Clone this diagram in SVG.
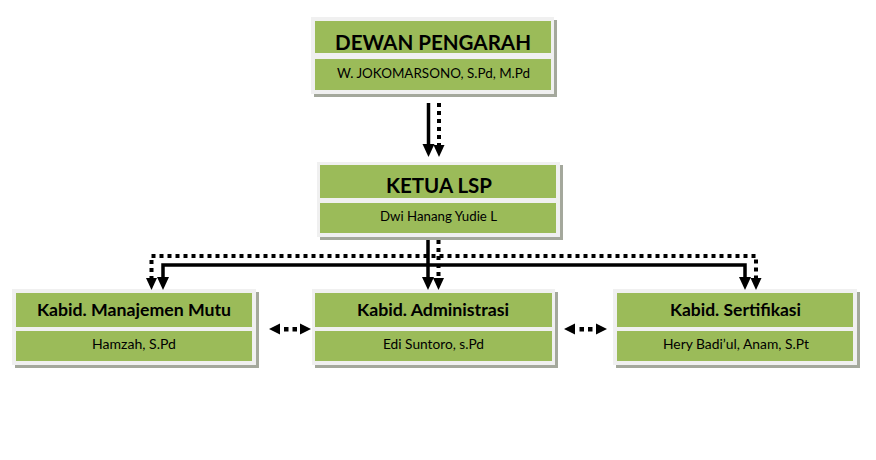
<svg xmlns="http://www.w3.org/2000/svg" width="876" height="460" viewBox="0 0 876 460">
  <defs>
    <style>
      .shadow { fill: #a4a89c; }
      .frame { fill: #f0f0f0; }
      .band { fill: #9bbb59; }
      .t { font-family: Lato, "Open Sans", sans-serif; fill: #000; text-anchor: middle; }
      .big { font-size: 21px; font-weight: bold; }
      .mid { font-size: 17px; font-weight: bold; }
      .small { font-size: 13.5px; }
      .solid { stroke: #000; stroke-width: 3.5; fill: none; }
      .dot { stroke: #000; stroke-width: 4; fill: none; stroke-dasharray: 4 4; }
      .head { fill: #000; }
    </style>
  </defs>
  <rect width="876" height="460" fill="#ffffff"/>

  <g id="dewan-pengarah">
    <rect class="shadow" x="314" y="20" width="243" height="77"/>
    <rect class="frame" x="311" y="17" width="243" height="77"/>
    <rect class="band" x="315" y="21" width="236" height="32"/>
    <rect class="band" x="315" y="59" width="236" height="31"/>
    <text class="t big" x="433" y="50" textLength="196" lengthAdjust="spacingAndGlyphs">DEWAN PENGARAH</text>
    <text class="t small" x="433.5" y="77.5" textLength="193" lengthAdjust="spacingAndGlyphs">W. JOKOMARSONO, S.Pd, M.Pd</text>
  </g>

  <g id="ketua-lsp">
    <rect class="shadow" x="320" y="165" width="243" height="75"/>
    <rect class="frame" x="317" y="162" width="243" height="75"/>
    <rect class="band" x="320" y="165" width="236" height="33"/>
    <rect class="band" x="320" y="203" width="236" height="30"/>
    <text class="t big" x="439" y="193" textLength="106" lengthAdjust="spacingAndGlyphs">KETUA LSP</text>
    <text class="t small" x="438.5" y="220.5" textLength="117" lengthAdjust="spacingAndGlyphs">Dwi Hanang Yudie L</text>
  </g>

  <g id="kabid-manajemen-mutu">
    <rect class="shadow" x="15" y="292" width="244" height="76"/>
    <rect class="frame" x="12" y="289" width="244" height="76"/>
    <rect class="band" x="16" y="293" width="236" height="34"/>
    <rect class="band" x="16" y="331" width="236" height="30"/>
    <text class="t mid" x="134" y="316" textLength="194" lengthAdjust="spacingAndGlyphs">Kabid. Manajemen Mutu</text>
    <text class="t small" x="134" y="348.5" textLength="84" lengthAdjust="spacingAndGlyphs">Hamzah, S.Pd</text>
  </g>

  <g id="kabid-administrasi">
    <rect class="shadow" x="315" y="292" width="243" height="76"/>
    <rect class="frame" x="312" y="289" width="243" height="76"/>
    <rect class="band" x="315" y="293" width="237" height="34"/>
    <rect class="band" x="315" y="331" width="237" height="30"/>
    <text class="t mid" x="433" y="316" textLength="152" lengthAdjust="spacingAndGlyphs">Kabid. Administrasi</text>
    <text class="t small" x="433.5" y="348.5" textLength="101" lengthAdjust="spacingAndGlyphs">Edi Suntoro, s.Pd</text>
  </g>

  <g id="kabid-sertifikasi">
    <rect class="shadow" x="616" y="292" width="244" height="76"/>
    <rect class="frame" x="613" y="289" width="244" height="76"/>
    <rect class="band" x="617" y="293" width="236" height="34"/>
    <rect class="band" x="617" y="331" width="236" height="30"/>
    <text class="t mid" x="735.5" y="316" textLength="131" lengthAdjust="spacingAndGlyphs">Kabid. Sertifikasi</text>
    <text class="t small" x="736" y="348.5" textLength="146" lengthAdjust="spacingAndGlyphs">Hery Badi’ul, Anam, S.Pt</text>
  </g>

  <g id="connectors">
    <!-- Dewan to Ketua -->
    <line class="solid" x1="428.5" y1="103" x2="428.5" y2="146"/>
    <polygon class="head" points="422.5,144 434.5,144 428.5,157"/>
    <line class="dot" x1="439" y1="103" x2="439" y2="146"/>
    <polygon class="head" points="433.5,145 444.5,145 439,157"/>

    <!-- Ketua solid tree -->
    <polyline class="solid" points="163,280 163,265 745,265 745,280"/>
    <line class="solid" x1="428" y1="240" x2="428" y2="280"/>
    <polygon class="head" points="157,277 169,277 163,290"/>
    <polygon class="head" points="422,277 434,277 428,290"/>
    <polygon class="head" points="739,277 751,277 745,290"/>

    <!-- Ketua dotted tree -->
    <polyline class="dot" points="151.5,280 151.5,256 756,256 756,280"/>
    <line class="dot" x1="438.5" y1="240" x2="438.5" y2="280"/>
    <polygon class="head" points="146,278 157,278 151.5,290"/>
    <polygon class="head" points="433,278 444,278 438.5,290"/>
    <polygon class="head" points="750.5,278 761.5,278 756,290"/>

    <!-- Manajemen <-> Administrasi -->
    <polygon class="head" points="269,329 280,323.5 280,334.5"/>
    <rect class="head" x="284" y="327" width="4.5" height="4.5"/>
    <rect class="head" x="292.5" y="327" width="4.5" height="4.5"/>
    <polygon class="head" points="311,329 300,323.5 300,334.5"/>

    <!-- Administrasi <-> Sertifikasi -->
    <polygon class="head" points="564,329 575,323.5 575,334.5"/>
    <rect class="head" x="579.5" y="327" width="4.5" height="4.5"/>
    <rect class="head" x="588" y="327" width="4.5" height="4.5"/>
    <polygon class="head" points="607,329 596,323.5 596,334.5"/>
  </g>
</svg>
